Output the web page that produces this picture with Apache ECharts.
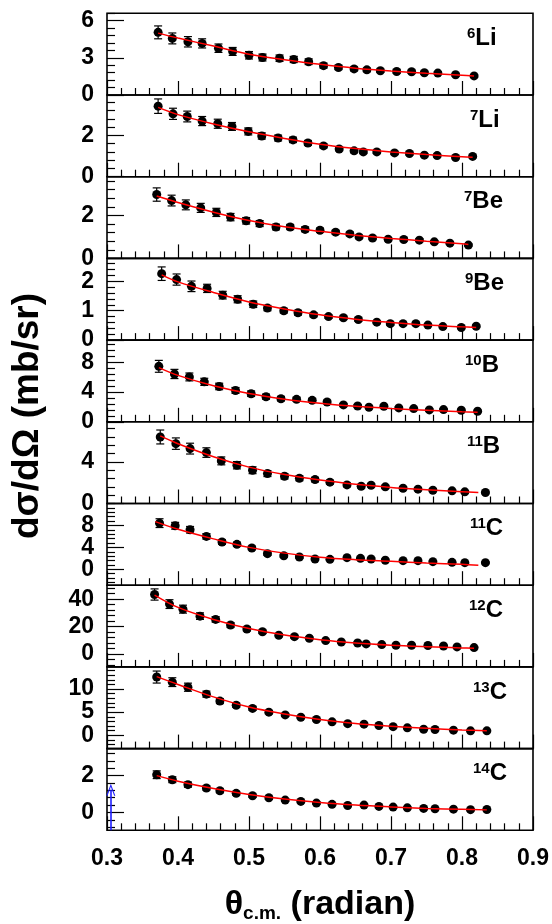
<!DOCTYPE html>
<html>
<head>
<meta charset="utf-8">
<script src="https://cdn.jsdelivr.net/npm/echarts@6/dist/echarts.min.js"></script>
<style>
  html, body { margin: 0; padding: 0; background: #fff; }
  #chart { width: 552px; height: 924px; }
</style>
</head>
<body>
<div id="chart"></div>
<script>
// Fragment labels: mass number (superscript) and element symbol
const massNumbers = ['6', '7', '7', '9', '10', '11', '11', '12', '13', '14'];
const elements = ['Li', 'Li', 'Be', 'Be', 'B', 'B', 'C', 'C', 'C', 'C'];

// Measured angular distributions: theta_cm (rad), dσ/dΩ (mb/sr), error
const li6Theta = [0.372, 0.392, 0.414, 0.434, 0.457, 0.477, 0.500, 0.519, 0.543, 0.563, 0.584, 0.605, 0.626, 0.648, 0.666, 0.685, 0.708, 0.729, 0.747, 0.766, 0.791, 0.817];
const li6Xsec = [5.06, 4.57, 4.30, 4.17, 3.78, 3.52, 3.21, 3.03, 2.97, 2.87, 2.69, 2.37, 2.22, 2.11, 2.03, 1.96, 1.90, 1.88, 1.80, 1.77, 1.64, 1.54];
const li6Err = [0.52, 0.44, 0.42, 0.37, 0.34, 0.32, 0.30, 0.28, 0.26, 0.25, 0.23, 0.20, 0.17, 0.16, 0.15, 0.14, 0.14, 0.13, 0.12, 0.12, 0.11, 0.10];

const li7Theta = [0.372, 0.393, 0.413, 0.434, 0.456, 0.476, 0.499, 0.518, 0.541, 0.562, 0.583, 0.605, 0.627, 0.648, 0.661, 0.680, 0.705, 0.726, 0.747, 0.765, 0.791, 0.815];
const li7Xsec = [3.41, 3.04, 2.91, 2.69, 2.56, 2.43, 2.19, 1.97, 1.87, 1.78, 1.63, 1.49, 1.34, 1.25, 1.20, 1.20, 1.15, 1.12, 1.04, 1.02, 0.93, 0.98];
const li7Err = [0.35, 0.27, 0.26, 0.22, 0.22, 0.19, 0.17, 0.15, 0.14, 0.13, 0.12, 0.10, 0.09, 0.09, 0.08, 0.08, 0.08, 0.07, 0.07, 0.07, 0.06, 0.06];

const be7Theta = [0.370, 0.391, 0.411, 0.432, 0.454, 0.474, 0.496, 0.515, 0.538, 0.558, 0.579, 0.600, 0.622, 0.642, 0.655, 0.674, 0.696, 0.718, 0.740, 0.761, 0.783, 0.809];
const be7Xsec = [2.97, 2.69, 2.49, 2.35, 2.14, 1.92, 1.75, 1.62, 1.46, 1.46, 1.35, 1.31, 1.22, 1.14, 1.00, 0.95, 0.89, 0.88, 0.85, 0.77, 0.71, 0.62];
const be7Err = [0.31, 0.25, 0.23, 0.21, 0.19, 0.17, 0.15, 0.14, 0.13, 0.12, 0.11, 0.10, 0.09, 0.09, 0.08, 0.08, 0.07, 0.07, 0.07, 0.06, 0.06, 0.05];

const be9Theta = [0.377, 0.398, 0.419, 0.441, 0.463, 0.484, 0.506, 0.526, 0.549, 0.569, 0.591, 0.612, 0.633, 0.654, 0.680, 0.699, 0.717, 0.735, 0.752, 0.773, 0.799, 0.820];
const be9Xsec = [2.26, 2.06, 1.83, 1.76, 1.53, 1.39, 1.22, 1.09, 1.00, 0.93, 0.86, 0.80, 0.76, 0.70, 0.61, 0.56, 0.56, 0.56, 0.51, 0.46, 0.43, 0.47];
const be9Err = [0.23, 0.19, 0.18, 0.14, 0.13, 0.12, 0.11, 0.09, 0.08, 0.08, 0.07, 0.06, 0.06, 0.06, 0.05, 0.05, 0.05, 0.05, 0.04, 0.04, 0.04, 0.04];

const b10Theta = [0.373, 0.395, 0.416, 0.437, 0.458, 0.481, 0.503, 0.524, 0.545, 0.567, 0.589, 0.610, 0.633, 0.653, 0.669, 0.690, 0.711, 0.732, 0.754, 0.774, 0.799, 0.822];
const b10Xsec = [7.47, 6.44, 6.04, 5.38, 4.76, 4.22, 3.78, 3.38, 3.11, 3.02, 2.89, 2.67, 2.27, 2.13, 1.96, 2.09, 1.87, 1.78, 1.60, 1.64, 1.56, 1.42];
const b10Err = [0.80, 0.62, 0.53, 0.48, 0.44, 0.40, 0.37, 0.34, 0.30, 0.28, 0.26, 0.24, 0.21, 0.20, 0.19, 0.19, 0.17, 0.16, 0.15, 0.14, 0.13, 0.12];

const b11Theta = [0.375, 0.397, 0.417, 0.440, 0.461, 0.483, 0.505, 0.526, 0.550, 0.571, 0.593, 0.614, 0.638, 0.658, 0.672, 0.692, 0.717, 0.738, 0.759, 0.786, 0.804, 0.833];
const b11Xsec = [6.40, 5.76, 5.28, 4.90, 4.10, 3.68, 3.20, 2.88, 2.62, 2.43, 2.30, 2.05, 1.79, 1.66, 1.76, 1.60, 1.47, 1.38, 1.28, 1.22, 1.12, 1.06];
const b11Err = [0.67, 0.55, 0.52, 0.46, 0.38, 0.35, 0.33, 0.29, 0.26, 0.24, 0.22, 0.20, 0.18, 0.17, 0.17, 0.16, 0.15, 0.14, 0.13, 0.13, 0.12, 0.11];

const c11Theta = [0.374, 0.396, 0.417, 0.440, 0.462, 0.483, 0.504, 0.526, 0.549, 0.571, 0.593, 0.614, 0.638, 0.657, 0.672, 0.692, 0.717, 0.738, 0.759, 0.786, 0.804, 0.833];
const c11Xsec = [8.42, 7.94, 7.21, 6.00, 4.97, 4.55, 3.88, 2.85, 2.48, 2.24, 1.88, 1.82, 2.12, 2.00, 1.88, 1.64, 1.58, 1.58, 1.39, 1.27, 1.21, 1.21];
const c11Err = [0.80, 0.62, 0.60, 0.50, 0.42, 0.38, 0.34, 0.30, 0.27, 0.25, 0.23, 0.21, 0.22, 0.21, 0.20, 0.18, 0.17, 0.17, 0.16, 0.15, 0.15, 0.14];

const c12Theta = [0.367, 0.388, 0.407, 0.431, 0.453, 0.474, 0.497, 0.519, 0.542, 0.564, 0.585, 0.608, 0.630, 0.653, 0.665, 0.687, 0.707, 0.729, 0.752, 0.774, 0.793, 0.817];
const c12Xsec = [43.4, 36.4, 32.7, 27.6, 25.2, 21.1, 18.2, 16.2, 13.6, 12.6, 11.4, 9.7, 8.7, 8.0, 7.3, 6.8, 6.3, 6.3, 6.1, 5.8, 5.1, 4.6];
const c12Err = [4.1, 3.2, 2.9, 2.4, 2.0, 1.8, 1.5, 1.3, 1.1, 1.0, 0.9, 0.8, 0.7, 0.7, 0.6, 0.6, 0.6, 0.55, 0.5, 0.5, 0.5, 0.45];

const c13Theta = [0.370, 0.392, 0.414, 0.440, 0.459, 0.482, 0.505, 0.528, 0.551, 0.573, 0.595, 0.617, 0.639, 0.662, 0.683, 0.703, 0.723, 0.746, 0.762, 0.788, 0.812, 0.835];
const c13Xsec = [12.6, 11.5, 10.4, 8.9, 7.4, 6.5, 5.8, 5.0, 4.4, 3.9, 3.4, 2.9, 2.5, 2.4, 2.1, 1.85, 1.6, 1.3, 1.25, 1.1, 0.95, 0.95];
const c13Err = [1.30, 0.95, 0.88, 0.65, 0.55, 0.48, 0.42, 0.37, 0.33, 0.30, 0.27, 0.24, 0.22, 0.20, 0.18, 0.17, 0.15, 0.14, 0.13, 0.12, 0.11, 0.10];

const c14Theta = [0.370, 0.392, 0.414, 0.440, 0.459, 0.482, 0.505, 0.528, 0.551, 0.573, 0.595, 0.617, 0.639, 0.662, 0.683, 0.703, 0.723, 0.746, 0.762, 0.788, 0.812, 0.835];
const c14Xsec = [2.05, 1.78, 1.51, 1.33, 1.18, 1.04, 0.91, 0.80, 0.67, 0.60, 0.51, 0.44, 0.38, 0.40, 0.33, 0.29, 0.25, 0.22, 0.20, 0.18, 0.15, 0.16];
const c14Err = [0.21, 0.16, 0.14, 0.12, 0.11, 0.10, 0.09, 0.08, 0.07, 0.06, 0.06, 0.05, 0.05, 0.05, 0.04, 0.04, 0.04, 0.03, 0.03, 0.03, 0.03, 0.03];

// Fitted curves (theta, dσ/dΩ)
const li6Fit = [[0.372, 5.00], [0.40, 4.60], [0.45, 3.95], [0.50, 3.30], [0.55, 2.85], [0.60, 2.48], [0.65, 2.17], [0.70, 1.94], [0.75, 1.76], [0.80, 1.60], [0.817, 1.54]];
const li7Fit = [[0.372, 3.35], [0.40, 3.00], [0.45, 2.55], [0.50, 2.17], [0.55, 1.85], [0.60, 1.57], [0.65, 1.36], [0.70, 1.20], [0.75, 1.07], [0.80, 0.97], [0.815, 0.94]];
const be7Fit = [[0.370, 2.90], [0.40, 2.60], [0.45, 2.15], [0.50, 1.76], [0.55, 1.47], [0.60, 1.26], [0.65, 1.08], [0.70, 0.93], [0.75, 0.80], [0.80, 0.68], [0.809, 0.65]];
const be9Fit = [[0.377, 2.22], [0.40, 1.98], [0.45, 1.62], [0.50, 1.30], [0.55, 1.06], [0.60, 0.86], [0.65, 0.71], [0.70, 0.60], [0.75, 0.51], [0.80, 0.45], [0.820, 0.43]];
const b10Fit = [[0.373, 7.30], [0.40, 6.25], [0.45, 4.85], [0.50, 3.80], [0.55, 3.05], [0.60, 2.50], [0.65, 2.08], [0.70, 1.78], [0.75, 1.55], [0.80, 1.35], [0.822, 1.28]];
const b11Fit = [[0.375, 6.50], [0.40, 5.75], [0.45, 4.50], [0.50, 3.50], [0.55, 2.78], [0.60, 2.25], [0.65, 1.85], [0.70, 1.55], [0.75, 1.33], [0.80, 1.13], [0.823, 1.05]];
const c11Fit = [[0.368, 8.70], [0.40, 7.30], [0.45, 5.55], [0.50, 4.00], [0.55, 2.95], [0.60, 2.20], [0.65, 1.75], [0.70, 1.45], [0.75, 1.15], [0.80, 0.90], [0.823, 0.75]];
const c12Fit = [[0.367, 43.0], [0.40, 34.0], [0.45, 25.2], [0.50, 18.5], [0.55, 13.8], [0.60, 10.4], [0.65, 8.0], [0.70, 6.4], [0.75, 5.3], [0.80, 4.4], [0.817, 4.2]];
const c13Fit = [[0.370, 12.7], [0.40, 11.0], [0.45, 8.3], [0.50, 6.1], [0.55, 4.6], [0.60, 3.4], [0.65, 2.55], [0.70, 1.95], [0.75, 1.50], [0.80, 1.15], [0.835, 0.98]];
const c14Fit = [[0.370, 2.00], [0.40, 1.70], [0.45, 1.30], [0.50, 0.98], [0.55, 0.73], [0.60, 0.54], [0.65, 0.40], [0.70, 0.30], [0.75, 0.22], [0.80, 0.17], [0.835, 0.14]];

// Threshold marker in the last panel (theta, arrow tip)
const arrowTheta = 0.3054;
const arrowTop = 1.24;

// Axes: shared theta range and per-panel cross-section ranges
const xTicks = [0.3, 0.4, 0.5, 0.6, 0.7, 0.8, 0.9];
const yMin = [0, 0, 0, 0, 0, 0, -2.9, -9.5, -2.9, -0.97];
const yMax = [6.6, 3.95, 3.8, 2.78, 11, 7.86, 12, 50.2, 14.8, 3.47];
const yMajor = [[0, 3, 6], [0, 2], [0, 2], [0, 1, 2], [0, 4, 8], [0, 4], [0, 4, 8], [0, 20, 40], [0, 5, 10], [0, 2]];
const yMinorStep = [0.6, 0.4, 0.4, 0.2, 0.8, 0.8, 0.8, 4, 1, 0.4];

const panels = [
  { theta: li6Theta, y: li6Xsec, err: li6Err, fit: li6Fit },
  { theta: li7Theta, y: li7Xsec, err: li7Err, fit: li7Fit },
  { theta: be7Theta, y: be7Xsec, err: be7Err, fit: be7Fit },
  { theta: be9Theta, y: be9Xsec, err: be9Err, fit: be9Fit },
  { theta: b10Theta, y: b10Xsec, err: b10Err, fit: b10Fit },
  { theta: b11Theta, y: b11Xsec, err: b11Err, fit: b11Fit },
  { theta: c11Theta, y: c11Xsec, err: c11Err, fit: c11Fit },
  { theta: c12Theta, y: c12Xsec, err: c12Err, fit: c12Fit },
  { theta: c13Theta, y: c13Xsec, err: c13Err, fit: c13Fit },
  { theta: c14Theta, y: c14Xsec, err: c14Err, fit: c14Fit }
];

const FONT = '"Liberation Sans", Arial, Helvetica, sans-serif';
const GRID_LEFT = 107;
const GRID_WIDTH = 426;
const GRID_TOP = 13.3;
const PANEL_H = 81.7;
const LABEL_X = [467, 470, 464, 465, 465, 467, 470, 469, 473, 473];
const N = panels.length;

function minorValues(i) {
  const step = yMinorStep[i];
  const out = [];
  const start = Math.ceil(yMin[i] / step - 1e-9);
  for (let k = start; k * step <= yMax[i] + 1e-9; k++) {
    const v = +(k * step).toFixed(6);
    if (!yMajor[i].some(m => Math.abs(m - v) < 1e-6)) out.push(v);
  }
  return out;
}

function renderErrorBar(params, api) {
  const x = api.value(0), y = api.value(1), e = api.value(2);
  const hi = api.coord([x, y + e]);
  const lo = api.coord([x, y - e]);
  const cap = 4;
  const style = { stroke: '#000', lineWidth: 1.2 };
  return {
    type: 'group',
    children: [
      { type: 'line', shape: { x1: hi[0], y1: hi[1], x2: lo[0], y2: lo[1] }, style },
      { type: 'line', shape: { x1: hi[0] - cap, y1: hi[1], x2: hi[0] + cap, y2: hi[1] }, style },
      { type: 'line', shape: { x1: lo[0] - cap, y1: lo[1], x2: lo[0] + cap, y2: lo[1] }, style }
    ]
  };
}

const yLabelStyle = {
  show: true, margin: 13, color: '#000', fontSize: 23, fontWeight: 'bold', fontFamily: FONT,
  formatter: v => String(Math.round(v)), hideOverlap: false
};

const grids = [], xAxes = [], yAxes = [], series = [], graphics = [];

panels.forEach((p, i) => {
  const top = GRID_TOP + i * PANEL_H;
  const last = i === N - 1;
  grids.push({
    left: GRID_LEFT, width: GRID_WIDTH, top: top, height: PANEL_H,
    show: true, borderColor: '#000', borderWidth: 1.6, backgroundColor: 'transparent'
  });
  xAxes.push({
    type: 'value', gridIndex: i, min: 0.3, max: 0.9, interval: 0.1,
    axisLine: { show: false, onZero: false },
    axisTick: { show: true, inside: true, length: 14, lineStyle: { color: '#000', width: 1.2 } },
    minorTick: { show: true, splitNumber: 5, length: 7, lineStyle: { color: '#000', width: 1.2 } },
    splitLine: { show: false },
    axisLabel: {
      show: last, margin: 17, color: '#000', fontSize: 23, fontWeight: 'bold', fontFamily: FONT,
      customValues: xTicks, formatter: v => v.toFixed(1), hideOverlap: false
    }
  });
  // major ticks; labels split over two stacked axes so that closely spaced ones all stay visible
  const labelsA = yMajor[i].filter((_, k) => k % 2 === 0);
  const labelsB = yMajor[i].filter((_, k) => k % 2 === 1);
  yAxes.push({
    type: 'value', gridIndex: i, position: 'left', min: yMin[i], max: yMax[i],
    axisLine: { show: false, onZero: false },
    axisTick: { show: true, inside: true, length: 17, customValues: yMajor[i], lineStyle: { color: '#000', width: 1.2 } },
    axisLabel: Object.assign({}, yLabelStyle, { customValues: labelsA }),
    splitLine: { show: false }
  });
  // minor ticks, plus the remaining major labels
  yAxes.push({
    type: 'value', gridIndex: i, position: 'left', min: yMin[i], max: yMax[i],
    axisLine: { show: false, onZero: false },
    axisTick: { show: true, inside: true, length: 8, customValues: minorValues(i), lineStyle: { color: '#000', width: 1.2 } },
    axisLabel: labelsB.length ? Object.assign({}, yLabelStyle, { customValues: labelsB }) : { show: false },
    splitLine: { show: false }
  });
  const yIdx = 2 * i;

  series.push({
    type: 'custom', xAxisIndex: i, yAxisIndex: yIdx,
    data: p.theta.map((t, k) => [t, p.y[k], p.err[k]]),
    encode: { x: 0, y: 1 },
    renderItem: renderErrorBar, z: 2, silent: true
  });
  const pts = {
    type: 'scatter', xAxisIndex: i, yAxisIndex: yIdx,
    data: p.theta.map((t, k) => [t, p.y[k]]),
    symbol: 'circle', symbolSize: 9,
    itemStyle: { color: '#000', opacity: 1 }, z: 3, silent: true
  };
  if (last) {
    pts.markLine = {
      silent: true, animation: false,
      symbol: ['none', 'path://M0,12 L6,0 L12,12 L10.4,12 L6,3.2 L1.6,12 Z'],
      symbolSize: [9, 12],
      label: { show: false },
      lineStyle: { color: '#1f1fff', width: 1.6, type: 'solid' },
      data: [[{ coord: [arrowTheta, yMin[i]] }, { coord: [arrowTheta, arrowTop] }]]
    };
  }
  series.push(pts);
  series.push({
    type: 'line', xAxisIndex: i, yAxisIndex: yIdx,
    data: p.fit, smooth: 0.35, symbol: 'none',
    lineStyle: { color: '#ff0000', width: 1.5 }, z: 4, silent: true
  });

  graphics.push({
    type: 'text', x: LABEL_X[i], y: top + 13,
    style: {
      text: '{s|' + massNumbers[i] + '}{m|' + elements[i] + '}',
      textAlign: 'left', textVerticalAlign: 'top',
      rich: {
        s: { fontSize: 15, fontWeight: 'bold', fontFamily: FONT, fill: '#000', lineHeight: 6, verticalAlign: 'top' },
        m: { fontSize: 24, fontWeight: 'bold', fontFamily: FONT, fill: '#000', lineHeight: 24 }
      }
    }
  });
});

// axis titles
graphics.push({
  type: 'text', x: 28, y: 416, rotation: Math.PI / 2,
  style: {
    text: 'dσ/dΩ (mb/sr)', fill: '#000', fontSize: 37, fontWeight: 'bold', fontFamily: FONT,
    textAlign: 'center', textVerticalAlign: 'middle'
  }
});
graphics.push({
  type: 'text', x: 320, y: 905,
  style: {
    text: '{a|θ}{b|c.m.}{a| (radian)}',
    textAlign: 'center', textVerticalAlign: 'middle',
    rich: {
      a: { fontSize: 34, fontWeight: 'bold', fontFamily: FONT, fill: '#000', lineHeight: 36 },
      b: { fontSize: 19, fontWeight: 'bold', fontFamily: FONT, fill: '#000', lineHeight: 10, verticalAlign: 'bottom' }
    }
  }
});

const chart = echarts.init(document.getElementById('chart'), null, { renderer: 'canvas' });
chart.setOption({
  animation: false,
  backgroundColor: '#fff',
  grid: grids,
  xAxis: xAxes,
  yAxis: yAxes,
  series: series,
  graphic: graphics
});
</script>
</body>
</html>
